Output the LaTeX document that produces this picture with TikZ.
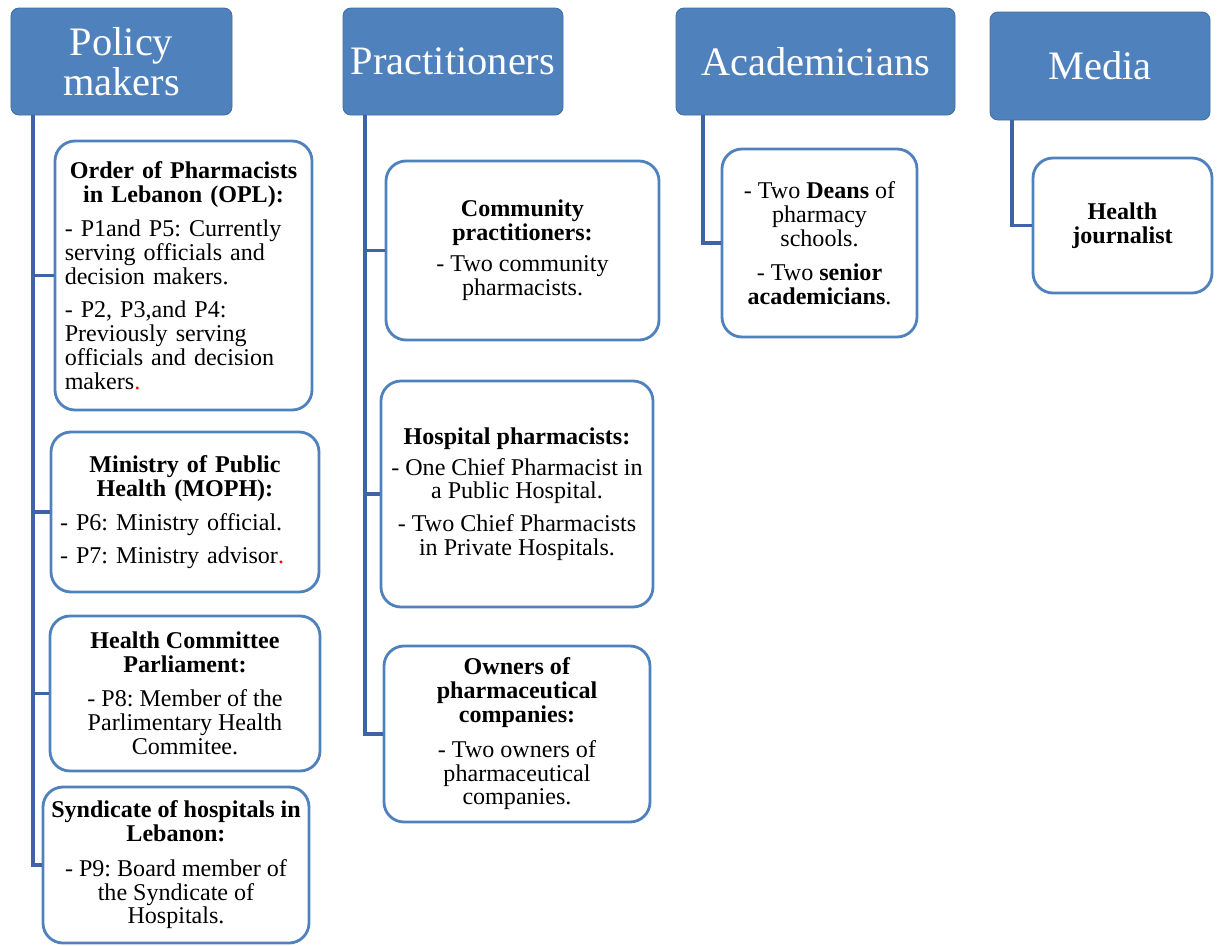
\documentclass[tikz,border=0pt]{standalone}
\usepackage{fontspec}
\setmainfont{Liberation Serif}

\definecolor{headblue}{RGB}{79,129,189}
\definecolor{lineblue}{RGB}{62,100,165}

\begin{document}
\frenchspacing
\begin{tikzpicture}[
        head/.style={
            rectangle,
            rounded corners=0.16cm,
            fill=headblue,
            draw=headblue!85!black,
            line width=0.5pt,
            text=white,
            inner sep=0pt,
            align=center,
            font=\fontsize{23}{22.5}\selectfont,
        },
        member/.style={
            rectangle,
            rounded corners=0.4cm,
            draw=headblue,
            line width=1.6pt,
            fill=white,
            inner sep=0pt,
            align=center,
            font=\fontsize{13.7}{13.6}\selectfont,
        },
        link/.style={
            draw=lineblue,
            line width=2pt,
        }
    ]

    \useasboundingbox (0,0) rectangle (24.36,-18.9);

    % stakeholder groups
    \node (PM) at (2.43,-1.23) [head, minimum width=4.42cm, minimum height=2.14cm] {Policy\\makers};
    \node (PR) at (9.06,-1.23) [head, minimum width=4.40cm, minimum height=2.14cm] {Practitioners};
    \node (AC) at (16.31,-1.23) [head, minimum width=5.58cm, minimum height=2.14cm] {Academicians};
    \node (ME) at (22.0,-1.32) [head, minimum width=4.40cm, minimum height=2.16cm] {Media};

    % policy makers
    \node (OPL) at (3.67,-5.51) [member, minimum width=5.14cm, minimum height=5.38cm, text width=4.75cm, align=left] {{\centering\bfseries Order of Pharmacists\\in Lebanon (OPL):\par}\vspace{6pt}- P1and P5: Currently\\serving officials and\\decision makers.\par\vspace{5pt}- P2, P3,and P4:\\Previously serving\\officials and decision\\makers\textcolor{red}{.}};
    \node (MOPH) at (3.70,-10.24) [member, minimum width=5.36cm, minimum height=3.20cm, text width=5.0cm, align=left] {{\centering\bfseries Ministry of Public\\Health (MOPH):\par}\vspace{6pt}- P6: Ministry official.\par\vspace{5pt}- P7: Ministry advisor\textcolor{red}{.}};
    \node (HCP) at (3.70,-13.87) [member, minimum width=5.40cm, minimum height=3.10cm] {\textbf{Health Committee}\\\textbf{Parliament:}\\[6pt]- P8: Member of the\\Parlimentary Health\\Commitee.};
    \node (SYN) at (3.52,-17.30) [member, minimum width=5.32cm, minimum height=3.12cm] {\textbf{Syndicate of hospitals in}\\\textbf{Lebanon:}\\[6pt]- P9: Board member of\\the Syndicate of\\Hospitals.};

    % practitioners
    \node (COM) at (10.45,-5.01) [member, minimum width=5.46cm, minimum height=3.58cm] {\textbf{Community}\\\textbf{practitioners:}\\[4pt]- Two community\\pharmacists.};
    \node (HOS) at (10.34,-9.88) [member, minimum width=5.44cm, minimum height=4.52cm] {\textbf{Hospital pharmacists:}\\[4pt]- One Chief Pharmacist in\\a Public Hospital.\\[5pt]- Two Chief Pharmacists\\in Private Hospitals.};
    \node (OWN) at (10.34,-14.68) [member, minimum width=5.32cm, minimum height=3.52cm] {\textbf{Owners of}\\\textbf{pharmaceutical}\\\textbf{companies:}\\[6pt]- Two owners of\\pharmaceutical\\companies.};

    % academicians and media
    \node (DEA) at (16.39,-4.86) [member, minimum width=3.90cm, minimum height=3.76cm] {- Two \textbf{Deans} of\\pharmacy\\schools.\\[6pt]- Two \textbf{senior}\\\textbf{academicians}.};
    \node (JOU) at (22.45,-4.51) [member, minimum width=3.58cm, minimum height=2.70cm] {\textbf{Health}\\\textbf{journalist}};

    \coordinate (PMroot) at (0.66,-2.30);
    \coordinate (PRroot) at (7.30,-2.30);
    \coordinate (ACroot) at (14.06,-2.30);
    \coordinate (MEroot) at (20.24,-2.40);

    \draw [link] (PMroot) |- (OPL);
    \draw [link] (PMroot) |- (MOPH);
    \draw [link] (PMroot) |- (HCP);
    \draw [link] (PMroot) |- (SYN);
    \draw [link] (PRroot) |- (COM);
    \draw [link] (PRroot) |- (HOS);
    \draw [link] (PRroot) |- (OWN);
    \draw [link] (ACroot) |- (DEA);
    \draw [link] (MEroot) |- (JOU);

\end{tikzpicture}
\end{document}
